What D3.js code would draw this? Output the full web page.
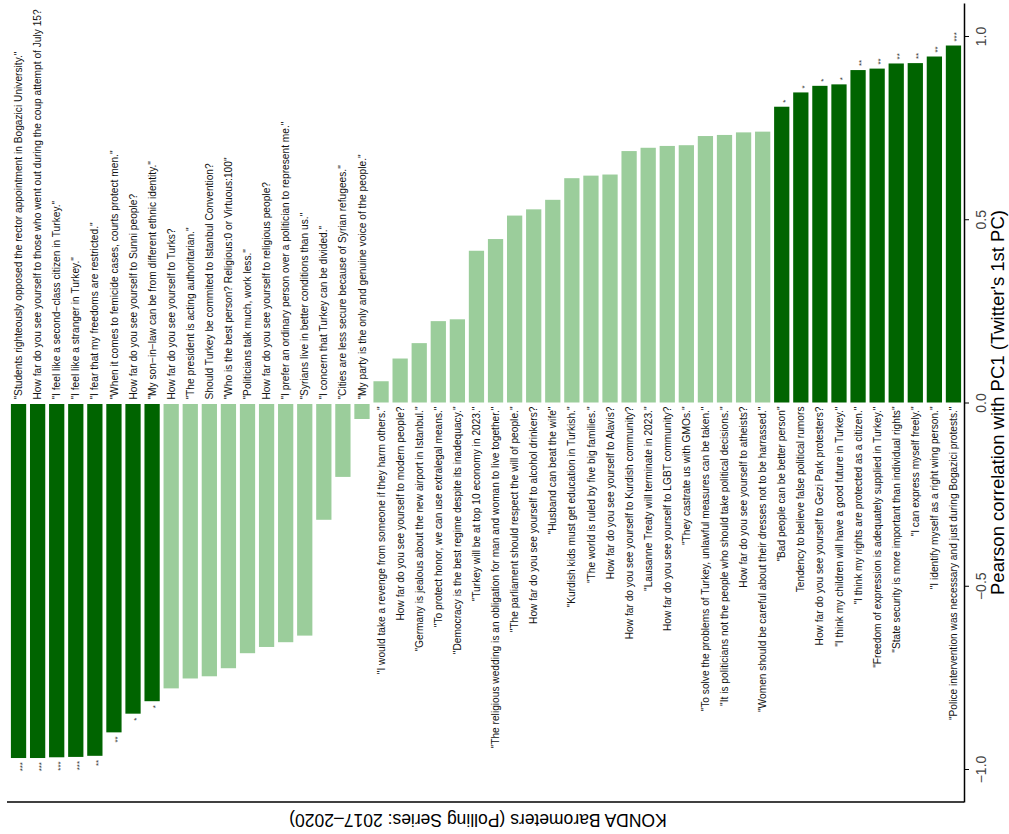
<!DOCTYPE html>
<html>
<head>
<meta charset="utf-8">
<script src="https://cdn.jsdelivr.net/npm/d3@7"></script>
<style>
  body { margin: 0; background: #fff; }
  svg { display: block; font-family: "Liberation Sans", Arial, sans-serif; }
</style>
</head>
<body>
<svg width="1009" height="834"></svg>
<script>
const labels = [
    '"Students righteously opposed the rector appointment in Bogazici University."',
    'How far do you see yourself to those who went out during the coup attempt of July 15?',
    '"I feel like a second\u2212class citizen in Turkey."',
    '"I feel like a stranger in Turkey."',
    '"I fear that my freedoms are restricted."',
    '"When it comes to femicide cases, courts protect men."',
    'How far do you see yourself to Sunni people?',
    '"My son\u2212in\u2212law can be from different ethnic identity."',
    'How far do you see yourself to Turks?',
    '"The president is acting authoritarian."',
    'Should Turkey be commited to Istanbul Convention?',
    '"Who is the best person? Religious:0 or Virtuous:100"',
    '"Politicians talk much, work less."',
    'How far do you see yourself to religious people?',
    '"I prefer an ordinary person over a politician to represent me."',
    '"Syrians live in better conditions than us."',
    '"I concern that Turkey can be divided."',
    '"Cities are less secure because of Syrian refugees."',
    '"My party is the only and genuine voice of the people."',
    '"I would take a revenge from someone if they harm others."',
    'How far do you see yourself to modern people?',
    '"Germany is jealous about the new airport in Istanbul."',
    '"To protect honor, we can use extralegal means."',
    '"Democracy is the best regime despite its inadequacy."',
    '"Turkey will be at top 10 economy in 2023."',
    '"The religious wedding is an obligation for man and woman to live together."',
    '"The parliament should respect the will of people."',
    'How far do you see yourself to alcohol drinkers?',
    '"Husband can beat the wife"',
    '"Kurdish kids must get education in Turkish."',
    '"The world is ruled by five big families."',
    'How far do you see yourself to Alavis?',
    'How far do you see yourself to Kurdish community?',
    '"Lausanne Treaty will terminate in 2023."',
    'How far do you see yourself to LGBT community?',
    '"They castrate us with GMOs."',
    '"To solve the problems of Turkey, unlawful measures can be taken."',
    '"It is politicians not the people who should take political decisions."',
    'How far do you see yourself to atheists?',
    '"Women should be careful about their dresses not to be harrassed."',
    '"Bad people can be better person"',
    'Tendency to believe false political rumors',
    'How far do you see yourself to Gezi Park protesters?',
    '"I think my children will have a good future in Turkey."',
    '"I think my rights are protected as a citizen."',
    '"Freedom of expression is adequately supplied in Turkey."',
    '"State security is more important than individual rights"',
    '"I can express myself freely."',
    '"I identify myself as a right wing person."',
    '"Police intervention was necessary and just during Bogazici protests."'
];

const values = [
    -0.970, -0.970, -0.968, -0.967, -0.964, -0.900, -0.849, -0.815,
    -0.780, -0.753, -0.747, -0.725, -0.684, -0.667, -0.654, -0.636,
    -0.320, -0.203, -0.045,
    0.058, 0.120, 0.162, 0.222, 0.227, 0.414, 0.446, 0.510, 0.527,
    0.553, 0.612, 0.619, 0.622, 0.686, 0.695, 0.700, 0.702, 0.727,
    0.730, 0.737, 0.739,
    0.807, 0.846, 0.864, 0.868, 0.907, 0.911, 0.925, 0.926, 0.944, 0.974
];

const stars = [
    '***', '***', '***', '***', '**', '**', '*', '*',
    '', '', '', '', '', '', '', '', '', '', '',
    '', '', '', '', '', '', '', '', '', '', '', '', '', '', '', '', '', '', '', '', '',
    '*', '*', '*', '*', '**', '**', '**', '**', '**', '***'
];

const yTicks = [-1, -0.5, 0, 0.5, 1];

const xTitle = 'KONDA Barometers (Polling Series: 2017\u20132020)';
const yTitle = "Pearson correlation with PC1 (Twitter's 1st PC)";

const darkGreen = '#006400';
const lightGreen = '#9BCD9B';

const svg = d3.select('svg');
const axisX = 964;
const bottomY = 802;

const x = d3.scaleBand()
    .domain(d3.range(labels.length))
    .range([9, 963])
    .paddingInner(0.2)
    .paddingOuter(0.1);

const y = d3.scaleLinear()
    .domain([-1.09, 1.09])
    .range([bottomY, 3]);

const zero = y(0);

// bars
svg.append('g')
    .selectAll('rect')
    .data(values)
    .enter().append('rect')
    .attr('x', (d, i) => x(i))
    .attr('width', x.bandwidth())
    .attr('y', d => d >= 0 ? y(d) : zero + 1.5)
    .attr('height', d => Math.abs(y(d) - zero) - (d >= 0 ? 0 : 1.5))
    .attr('fill', (d, i) => stars[i] ? darkGreen : lightGreen);

// question labels, next to the zero line
svg.append('g')
    .selectAll('text')
    .data(labels)
    .enter().append('text')
    .attr('transform', (d, i) => {
        const cx = x(i) + x.bandwidth() / 2;
        const ty = values[i] >= 0 ? zero + 4 : zero - 3;
        return `translate(${cx},${ty}) rotate(-90)`;
    })
    .attr('text-anchor', (d, i) => values[i] >= 0 ? 'end' : 'start')
    .attr('dy', '0.35em')
    .attr('font-size', 10.2)
    .attr('fill', '#111')
    .text(d => d);

// significance stars at bar ends
svg.append('g')
    .selectAll('text')
    .data(values)
    .enter().append('text')
    .attr('transform', (d, i) => {
        const cx = x(i) + x.bandwidth() / 2;
        const ty = d >= 0 ? y(d) - 4 : y(d) + 4;
        return `translate(${cx},${ty}) rotate(-90)`;
    })
    .attr('text-anchor', d => d >= 0 ? 'start' : 'end')
    .attr('dy', '0.75em')
    .attr('font-size', 8)
    .attr('fill', '#333')
    .text((d, i) => stars[i]);

// value axis on the right
const yAxis = svg.append('g')
    .attr('transform', `translate(${axisX},0)`)
    .call(d3.axisRight(y)
        .tickValues(yTicks)
        .tickSize(5)
        .tickSizeOuter(0)
        .tickFormat(d3.format('.1f')));

yAxis.select('.domain').attr('stroke-width', 1.5);
yAxis.selectAll('.tick line').attr('stroke-width', 1);
yAxis.selectAll('.tick text')
    .attr('x', null)
    .attr('dy', null)
    .attr('transform', 'translate(22,0) rotate(-90)')
    .attr('text-anchor', 'middle')
    .attr('font-size', 14)
    .attr('font-family', '"Liberation Sans", Arial, sans-serif')
    .attr('fill', '#444');

// bottom line
svg.append('line')
    .attr('x1', 7)
    .attr('x2', axisX)
    .attr('y1', bottomY)
    .attr('y2', bottomY)
    .attr('stroke', '#000')
    .attr('stroke-width', 1.5);

// titles
svg.append('text')
    .attr('transform', `translate(1004,${(3 + bottomY) / 2}) rotate(-90)`)
    .attr('text-anchor', 'middle')
    .attr('font-size', 18.5)
    .text(yTitle);

svg.append('text')
    .attr('transform', `translate(478,814) rotate(180)`)
    .attr('text-anchor', 'middle')
    .attr('font-size', 17.5)
    .text(xTitle);
</script>
</body>
</html>
